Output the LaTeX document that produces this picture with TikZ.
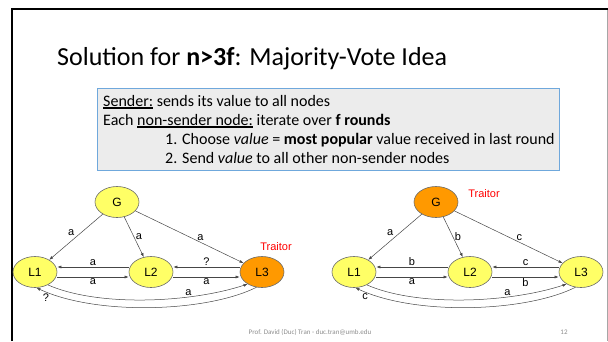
\documentclass[tikz,border=0pt]{standalone}
\usepackage{fontspec}
\setmainfont{Carlito}
\newfontfamily\arialfont{Liberation Sans}
\usetikzlibrary{shapes.geometric,arrows.meta}
\definecolor{loyal}{RGB}{255,255,102}
\definecolor{traitor}{RGB}{255,153,0}
\definecolor{edgegray}{RGB}{70,70,70}
\definecolor{boxblue}{RGB}{111,168,220}
\definecolor{boxgray}{RGB}{236,236,236}
\definecolor{footgray}{RGB}{140,140,140}
\newcommand{\heavyul}[1]{\leavevmode\vtop{\hbox{#1}\kern1.2pt\hrule height 1.6pt}}

\begin{document}
\begin{tikzpicture}[x=1pt,y=-1pt,
	general/.style={ellipse,draw=edgegray!80,line width=0.6pt,minimum width=44pt,minimum height=31pt,inner sep=0pt,font=\arialfont\fontsize{12}{14}\selectfont},
	msg/.style={draw=edgegray,line width=0.5pt,-{Latex[length=4pt,width=3pt]}},
	lab/.style={font=\arialfont\fontsize{11}{13}\selectfont,inner sep=1.5pt},
	tag/.style={font=\arialfont\fontsize{11}{13}\selectfont,text=red},
	info/.style={anchor=base west,font=\fontsize{16}{19}\selectfont,inner sep=0pt}]
	\useasboundingbox (0,0) rectangle (608,341);
	\draw[line width=2pt] (12,341) -- (12,9) -- (608,9);
	\draw[black!35,line width=0.8pt] (607,10) -- (607,341);
	\node[anchor=base west,inner sep=0pt,font=\fontsize{26}{30}\selectfont] (title) at (57,65) {Solution for \textbf{n>3f}: Majority-Vote Idea};
	\node[draw=boxblue,fill=boxgray,line width=0.8pt,anchor=north west,minimum width=462pt,minimum height=82pt] (rules) at (97,88) {};
	\node[info] (senderline) at (103,106) {\heavyul{Sender:} sends its value to all nodes};
	\node[info] (roundline) at (103,125) {Each \heavyul{non-sender node:} iterate over \textbf{f rounds}};
	\node[info] (itemone) at (165,144) {\makebox[17pt][l]{1.}Choose \textit{value} = \textbf{most popular} value received in last round};
	\node[info] (itemtwo) at (165,163) {\makebox[17pt][l]{2.}Send \textit{value} to all other non-sender nodes};
	\node[anchor=base,font=\fontsize{7}{8}\selectfont,text=footgray] (footer) at (310,334) {Prof. David (Duc) Tran - duc.tran@umb.edu};
	\node[anchor=base,font=\fontsize{7}{8}\selectfont,text=footgray] (pagenum) at (564,334) {12};

	% sender is loyal, L3 lies
	\node[general,fill=loyal] (gA) at (117,202) {G};
	\node[general,fill=loyal] (a1) at (35,272) {L1};
	\node[general,fill=loyal] (a2) at (151,272) {L2};
	\node[general,fill=traitor] (a3) at (262,272) {L3};
	\node[tag] (traitorA) at (276,247) {Traitor};
	\draw[msg] (gA) -- node[lab,above left] {a} (a1);
	\draw[msg] (gA) -- node[lab,right] {a} (a2);
	\draw[msg] (gA) -- node[lab,pos=0.6,above] {a} (a3);
	\draw[msg] ([yshift=5pt]a2.west) -- node[lab,above] {a} ([yshift=5pt]a1.east);
	\draw[msg] ([yshift=-5pt]a1.east) -- node[lab,below] {a} ([yshift=-5pt]a2.west);
	\draw[msg] ([yshift=5pt]a3.west) -- node[lab,above] {?} ([yshift=5pt]a2.east);
	\draw[msg] ([yshift=-5pt]a2.east) -- node[lab,below] {a} ([yshift=-5pt]a3.west);
	\draw[msg] (a1.-45) .. controls +(50,22) and +(-58,19) .. node[lab,pos=0.7,anchor=south,inner sep=0.5pt] {a} (a3.220);
	\draw[msg] (a3.-110) .. controls +(-50,25) and +(60,28) .. node[lab,pos=0.93,anchor=north east,inner sep=0.5pt] {?} (a1.-85);

	% sender lies
	\begin{scope}[xshift=319pt]
		\node[general,fill=traitor] (gB) at (117,202) {G};
		\node[general,fill=loyal] (b1) at (35,272) {L1};
		\node[general,fill=loyal] (b2) at (151,272) {L2};
		\node[general,fill=loyal] (b3) at (262,272) {L3};
		\node[tag] (traitorB) at (165,194) {Traitor};
		\draw[msg] (gB) -- node[lab,above left] {a} (b1);
		\draw[msg] (gB) -- node[lab,right] {b} (b2);
		\draw[msg] (gB) -- node[lab,pos=0.6,above] {c} (b3);
		\draw[msg] ([yshift=5pt]b2.west) -- node[lab,above] {b} ([yshift=5pt]b1.east);
		\draw[msg] ([yshift=-5pt]b1.east) -- node[lab,below] {a} ([yshift=-5pt]b2.west);
		\draw[msg] ([yshift=5pt]b3.west) -- node[lab,above] {c} ([yshift=5pt]b2.east);
		\draw[msg] ([yshift=-5pt]b2.east) -- node[lab,below] {b} ([yshift=-5pt]b3.west);
		\draw[msg] (b1.-45) .. controls +(50,22) and +(-58,19) .. node[lab,pos=0.7,anchor=south,inner sep=0.5pt] {a} (b3.220);
		\draw[msg] (b3.-110) .. controls +(-50,25) and +(60,28) .. node[lab,pos=0.93,anchor=north east,inner sep=0.5pt] {c} (b1.-85);
	\end{scope}
\end{tikzpicture}
\end{document}
